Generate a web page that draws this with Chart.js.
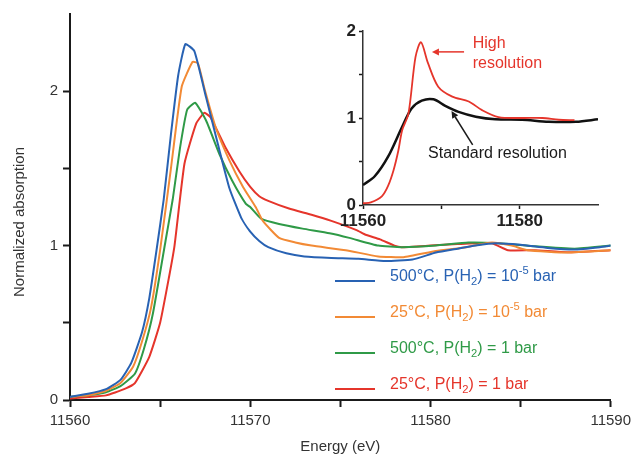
<!DOCTYPE html>
<html><head><meta charset="utf-8">
<script src="https://cdn.jsdelivr.net/npm/chart.js@4/dist/chart.umd.min.js"></script>
<style>
html,body{margin:0;padding:0;background:#fff;}
#wrap{position:relative;width:636px;height:457px;background:#fff;}
#main{position:absolute;left:0;top:0;width:636px;height:457px;}
#inset{position:absolute;left:320px;top:0;width:300px;height:240px;}
</style></head><body>
<div id="wrap"><canvas id="main" width="636" height="457"></canvas><canvas id="inset" width="300" height="240"></canvas></div>
<script>
// ---------- Main chart data ----------
const blueE = [11560,11561,11562,11562.8,11563.4,11564,11564.4,11564.8,11565.2,11565.6,11566,11566.4,11566.9,11567.55,11568.2,11568.85,11569.5,11570,11570.5,11571,11572,11573,11574.5,11576,11577.5,11579,11580.3,11581.5,11582.5,11583.6,11585,11586.5,11588,11589.4,11590];
const blueV = [0.02,0.04,0.07,0.13,0.24,0.44,0.66,0.97,1.3,1.72,2.1,2.305,2.26,1.96,1.66,1.37,1.18,1.09,1.03,0.99,0.95,0.93,0.92,0.915,0.90,0.91,0.955,0.98,1.0,1.015,1.005,0.985,0.975,0.99,1.0];

const orangeE = [11560,11561,11562,11562.8,11563.5,11564,11564.5,11565,11565.6,11566.2,11566.8,11567.1,11567.5,11568.1,11568.85,11569.6,11570.3,11570.7,11571.6,11572.5,11573.4,11575.3,11577.1,11578.5,11580.3,11582,11583.4,11584.5,11585.4,11587.6,11590];
const orangeV = [0.02,0.03,0.06,0.11,0.215,0.38,0.6,0.97,1.5,2.03,2.19,2.18,2.0,1.76,1.55,1.38,1.25,1.16,1.05,1.02,1.0,0.97,0.93,0.925,0.965,0.99,1.02,1.0,0.97,0.955,0.97];

const greenE = [11560,11561,11562,11562.8,11563.6,11564.1,11564.6,11565.3,11565.7,11566.1,11566.5,11566.95,11567.55,11568.3,11569,11569.76,11570,11570.6,11571.6,11572.9,11574.4,11575.5,11577.1,11578.4,11580.3,11582.1,11583.8,11585.8,11588,11590];
const greenV = [0.02,0.03,0.05,0.09,0.17,0.33,0.56,1.03,1.3,1.63,1.88,1.925,1.81,1.59,1.42,1.27,1.25,1.175,1.14,1.11,1.08,1.05,1.0,0.99,1.0,1.02,1.015,0.995,0.98,1.0];

const redE = [11560,11561,11562,11563,11563.6,11564.4,11565,11565.5,11565.8,11566.35,11567,11567.45,11567.8,11568.65,11569.4,11570,11570.5,11571,11572.15,11573.4,11574.5,11575.9,11576.4,11577.2,11578,11578.4,11580,11581.5,11583.4,11584.3,11585.8,11587.6,11590];
const redV = [0.01,0.02,0.03,0.07,0.11,0.28,0.5,0.8,1.0,1.53,1.79,1.86,1.83,1.63,1.48,1.38,1.32,1.29,1.24,1.2,1.16,1.1,1.07,1.04,1.0,0.99,1.0,1.01,1.015,0.97,0.97,0.957,0.97];

const legendTemps = ['500°C','25°C','500°C','25°C'];
const legendPressure = ['10','10','1','1'];
const legendExponent = ['-5','-5','',''];

const xTickLabels = [11560,11570,11580,11590];
const yTickLabels = [0,1,2];

// ---------- Inset data ----------
const hiResE = [11560,11561,11562.4,11563.2,11563.9,11564.5,11565,11565.8,11566.7,11567.4,11568.3,11569.6,11571.4,11573.5,11575.2,11577.3,11580.3,11582.9,11585,11587];
const hiResV = [0.02,0.03,0.1,0.22,0.4,0.62,0.86,1.05,1.7,1.87,1.63,1.36,1.245,1.19,1.09,1.01,1.0,1.0,0.98,0.975];
const stdResE = [11560,11561.5,11563.2,11565,11566.2,11567.5,11569,11570.5,11572.2,11574.4,11576.9,11580.3,11583.7,11587.2,11590];
const stdResV = [0.23,0.33,0.555,0.9,1.11,1.2,1.215,1.14,1.07,1.015,0.985,0.98,0.957,0.957,0.985];
const insetXTickLabels = [11560,11580];
const insetYTickLabels = [0,1,2];

const COLORS = ['#2862b3','#f28a35','#2f9a47','#e5352b'];
const FONT = '"Liberation Sans", Arial, sans-serif';

function pts(E,V){return E.map((e,i)=>({x:e,y:V[i]}));}

function drawRich(ctx, parts, x, y, size, color){
  ctx.fillStyle = color;
  ctx.textBaseline = 'alphabetic';
  ctx.textAlign = 'left';
  let cx = x;
  for (const p of parts){
    let s = size, dy = 0;
    if (p.m==='sub'){ s = size*0.7; dy = 4; }
    if (p.m==='sup'){ s = size*0.7; dy = -7; }
    ctx.font = s + 'px ' + FONT;
    ctx.fillText(p.t, cx, y+dy);
    cx += ctx.measureText(p.t).width;
  }
}

const mainDecor = {
  id:'mainDecor',
  afterDraw(chart){
    const ctx = chart.ctx;
    const ca = chart.chartArea;
    ctx.save();
    // axis titles
    ctx.fillStyle = '#333';
    ctx.font = '15px ' + FONT;
    ctx.textAlign = 'center';
    ctx.textBaseline = 'middle';
    ctx.fillText('Energy (eV)', (ca.left+ca.right)/2, 447);
    ctx.translate(20, 222);
    ctx.rotate(-Math.PI/2);
    ctx.fillText('Normalized absorption', 0, 0);
    ctx.restore();
    // legend
    ctx.save();
    const baselines = [281,317,353,389];
    for (let i=0;i<4;i++){
      const y = baselines[i];
      ctx.strokeStyle = COLORS[i];
      ctx.lineWidth = 2;
      ctx.beginPath(); ctx.moveTo(335,y); ctx.lineTo(375,y); ctx.stroke();
      const parts = [{t:legendTemps[i]+', P(H'},{t:'2',m:'sub'},{t:') = '+legendPressure[i]}];
      if (legendExponent[i]) parts.push({t:legendExponent[i],m:'sup'});
      parts.push({t:' bar'});
      drawRich(ctx, parts, 390, y, 16, COLORS[i]);
    }
    ctx.restore();
  }
};

const tickColor = (hideAbove)=> (c)=> (c.tick && c.tick.value > hideAbove) ? 'rgba(0,0,0,0)' : '#1a1a1a';

new Chart(document.getElementById('main'), {
  type:'line',
  data:{datasets:[
    {data:pts(blueE,blueV), borderColor:COLORS[0]},
    {data:pts(orangeE,orangeV), borderColor:COLORS[1]},
    {data:pts(greenE,greenV), borderColor:COLORS[2]},
    {data:pts(redE,redV), borderColor:COLORS[3]}
  ].map(d=>Object.assign(d,{borderWidth:2,pointRadius:0,tension:0.15,fill:false,borderJoinStyle:'round'}))},
  options:{
    responsive:false, animation:false, devicePixelRatio:1,
    layout:{padding:{left:0,top:13,right:24,bottom:0}},
    plugins:{legend:{display:false},tooltip:{enabled:false}},
    scales:{
      x:{type:'linear',min:11560,max:11590,
        afterFit(s){s.height=57;},
        ticks:{stepSize:5,autoSkip:false,maxRotation:0,padding:5,color:'#333',font:{family:FONT,size:15},
          callback:(v)=> xTickLabels.includes(v)? String(v):''},
        grid:{drawOnChartArea:false,drawTicks:true,tickLength:7,tickWidth:2,color:tickColor(99999)},
        border:{display:true,color:'#1a1a1a',width:2}},
      y:{type:'linear',min:0,max:2.5,
        afterFit(s){s.width=70;},
        ticks:{stepSize:0.5,autoSkip:false,padding:5,color:'#333',font:{family:FONT,size:15},
          callback:(v)=> yTickLabels.includes(v)? String(v):''},
        grid:{drawOnChartArea:false,drawTicks:true,tickLength:7,tickWidth:2,color:tickColor(2.4)},
        border:{display:true,color:'#1a1a1a',width:2}}
    }
  },
  plugins:[mainDecor]
});

function arrow(ctx, x1,y1,x2,y2,color){
  // arrow from (x1,y1) to head at (x2,y2)
  ctx.strokeStyle = color; ctx.fillStyle = color; ctx.lineWidth = 1.5;
  const a = Math.atan2(y2-y1,x2-x1);
  const hl = 7, hw = 3.5;
  const bx = x2 - hl*Math.cos(a), by = y2 - hl*Math.sin(a);
  ctx.beginPath(); ctx.moveTo(x1,y1); ctx.lineTo(bx,by); ctx.stroke();
  ctx.beginPath();
  ctx.moveTo(x2,y2);
  ctx.lineTo(bx + hw*Math.sin(a), by - hw*Math.cos(a));
  ctx.lineTo(bx - hw*Math.sin(a), by + hw*Math.cos(a));
  ctx.closePath(); ctx.fill();
}

const insetDecor = {
  id:'insetDecor',
  afterDraw(chart){
    const ctx = chart.ctx, xs = chart.scales.x, ys = chart.scales.y;
    const X = v=>xs.getPixelForValue(v), Y = v=>ys.getPixelForValue(v);
    ctx.save();
    ctx.font = '16px ' + FONT;
    ctx.textAlign = 'left'; ctx.textBaseline = 'middle';
    ctx.fillStyle = COLORS[3];
    ctx.fillText('High', X(11574), Y(1.85));
    ctx.fillText('resolution', X(11574), Y(1.63));
    arrow(ctx, X(11572.9), Y(1.76), X(11568.8), Y(1.76), COLORS[3]);
    ctx.fillStyle = '#1a1a1a';
    ctx.fillText('Standard resolution', X(11568.3), Y(0.59));
    arrow(ctx, X(11574), Y(0.69), X(11571.3), Y(1.08), '#1a1a1a');
    ctx.restore();
  }
};

new Chart(document.getElementById('inset'), {
  type:'line',
  data:{datasets:[
    {data:pts(hiResE,hiResV), borderColor:COLORS[3], borderWidth:1.8},
    {data:pts(stdResE,stdResV), borderColor:'#111', borderWidth:2.5}
  ].map(d=>Object.assign(d,{pointRadius:0,tension:0.3,fill:false}))},
  options:{
    responsive:false, animation:false, devicePixelRatio:1,
    layout:{padding:{left:0,top:31,right:22,bottom:0}},
    plugins:{legend:{display:false},tooltip:{enabled:false}},
    scales:{
      x:{type:'linear',min:11560,max:11590,
        afterFit(s){s.height=35;},
        ticks:{stepSize:10,autoSkip:false,maxRotation:0,padding:2,color:'#222',font:{family:FONT,size:17,weight:'bold'},
          callback:(v)=> insetXTickLabels.includes(v)? String(v):''},
        grid:{drawOnChartArea:false,drawTicks:true,tickLength:4,tickWidth:1.5,color:tickColor(11585)},
        border:{display:true,color:'#333',width:1.5}},
      y:{type:'linear',min:0,max:2,
        afterFit(s){s.width=43;},
        ticks:{stepSize:0.5,autoSkip:false,padding:3,color:'#222',font:{family:FONT,size:17,weight:'bold'},
          callback:(v)=> insetYTickLabels.includes(v)? String(v):''},
        grid:{drawOnChartArea:false,drawTicks:true,tickLength:4,tickWidth:1.5,color:tickColor(99)},
        border:{display:true,color:'#333',width:1.5}}
    }
  },
  plugins:[insetDecor]
});
</script>
</body></html>
